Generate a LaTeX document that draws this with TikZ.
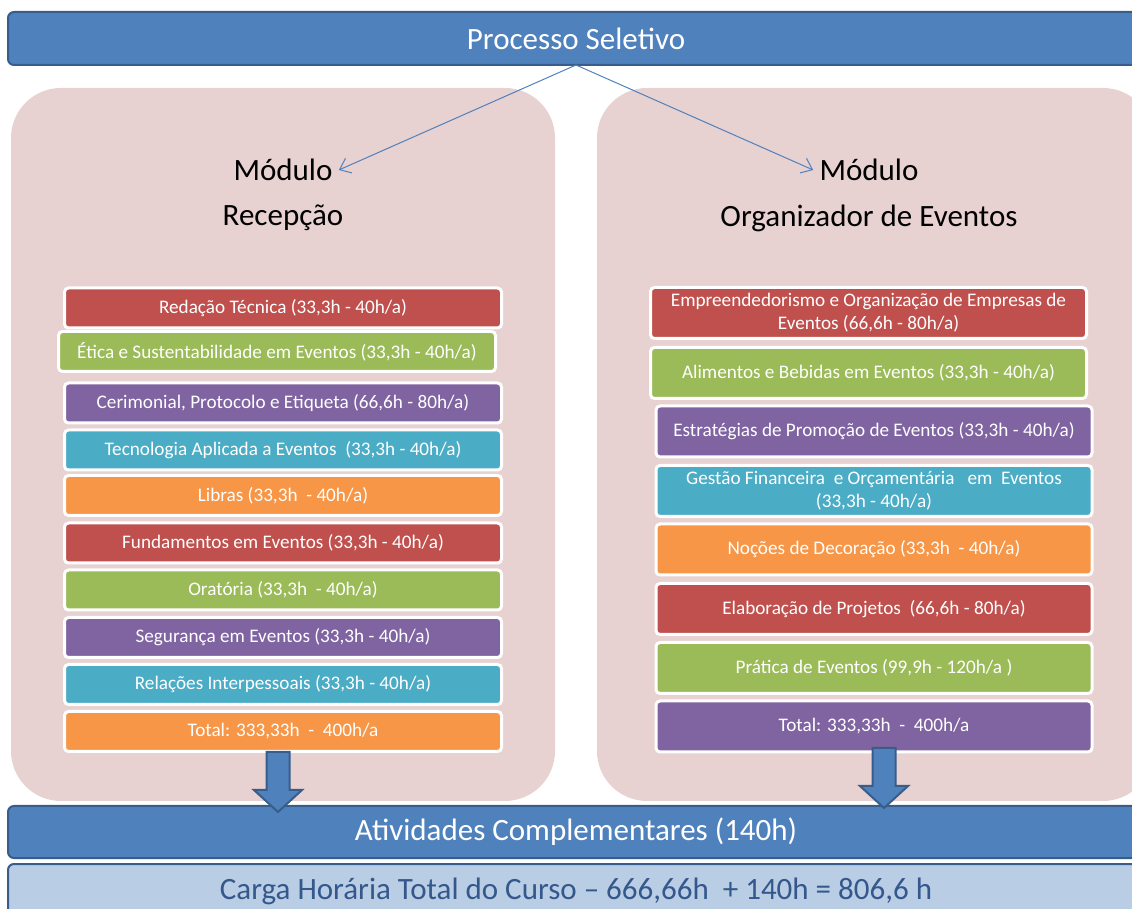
\documentclass[tikz,border=0pt]{standalone}
\usepackage{fontspec}
\setmainfont{Carlito}
\usetikzlibrary{arrows.meta,positioning,calc}
\definecolor{barblue}{HTML}{4F81BD}
\definecolor{barline}{HTML}{385D8A}
\definecolor{barlight}{HTML}{B9CDE5}
\definecolor{cargatext}{HTML}{34578C}
\definecolor{panelpink}{HTML}{E8D1D1}
\definecolor{boxred}{HTML}{C0504D}
\definecolor{boxgreen}{HTML}{9BBB59}
\definecolor{boxpurple}{HTML}{8064A2}
\definecolor{boxaqua}{HTML}{4BACC6}
\definecolor{boxorange}{HTML}{F79646}
\tikzset{
  >={Straight Barb[length=5pt,width=8pt]},
  bar/.style    = {draw=barline, line width=1pt, fill=barblue, rounded corners=3pt,
                   text=white, minimum width=584pt, font=\fontsize{15.5}{18}\selectfont},
  panel/.style  = {fill=panelpink, rounded corners=25pt, minimum height=356.5pt},
  course/.style = {draw=white, line width=1.5pt, rounded corners=2pt, text=white,
                   align=center, inner sep=2pt, font=\fontsize{9.6}{11.5}\selectfont},
  head/.style   = {inner sep=1pt, font=\fontsize{15.5}{18}\selectfont},
  link/.style   = {draw=barblue, line width=0.5pt, ->},
  block/.style  = {draw=barline, line width=1pt, fill=barblue, line join=miter}
}

\begin{document}
\begin{tikzpicture}[x=0.5pt, y=-0.5pt]  % one unit = one pixel, y grows downwards
  \useasboundingbox (0,0) rectangle (1132,909);
  \clip (0,0) rectangle (1132,909);

  %  --  The two module panels
  \node[panel, minimum width=272pt]   (recepcao) at (283,444.5) {};
  \node[panel, minimum width=278pt] (eventos)  at (875,444.5) {};

  %  --  Selection bar on top and the two module titles
  \node[bar, minimum height=26.5pt] (selecao) at (592,38.5) {\hspace*{-16pt}Processo Seletivo};
  \node[head] (modL)  at (283,170) {Módulo};
  \node[head] (nomeL) at (283,218) {Recepção};
  \node[head] (modR)  at (869,170) {Módulo};
  \node[head] (nomeR) at (869,218) {Organizador de Eventos};
  \coordinate (split) at (576,65);
  \draw[link] (split) -- ([xshift=2pt]modL.east);
  \draw[link] (split) -- ([xshift=-2pt]modR.west);

  %  --  Courses of the first module
  \foreach \y/\x/\c/\txt [count=\i] in {
      308/283/boxred/{Redação Técnica (33,3h - 40h/a)},
      351.5/277/boxgreen/{Ética e Sustentabilidade em Eventos (33,3h - 40h/a)},
      403/283/boxpurple/{Cerimonial, Protocolo e Etiqueta (66,6h - 80h/a)},
      450/283/boxaqua/{Tecnologia Aplicada a Eventos\ \ (33,3h - 40h/a)},
      495.5/283/boxorange/{Libras (33,3h\ \ - 40h/a)},
      543/283/boxred/{Fundamentos em Eventos (33,3h - 40h/a)},
      590/283/boxgreen/{Oratória (33,3h\ \ - 40h/a)},
      637.5/283/boxpurple/{Segurança em Eventos (33,3h - 40h/a)},
      684.5/283/boxaqua/{Relações Interpessoais (33,3h - 40h/a)},
      731.5/283/boxorange/{Total: 333,33h\ \ -\ \ 400h/a}}{
    \node[course, fill=\c, minimum width=218.5pt, minimum height=20pt] (rec\i) at (\x,\y) {\txt};
  }

  %  --  Courses of the second module
  \foreach \y/\x/\c/\txt [count=\i] in {
      313/868.5/boxred/{Empreendedorismo e Organização de Empresas de\\Eventos (66,6h - 80h/a)},
      373/868.5/boxgreen/{Alimentos e Bebidas em Eventos (33,3h - 40h/a)},
      431.5/874/boxpurple/{Estratégias de Promoção de Eventos (33,3h - 40h/a)},
      491/874/boxaqua/{Gestão Financeira\ \ e Orçamentária\ \ \ em\ \ Eventos\\(33,3h - 40h/a)},
      549.5/874/boxorange/{Noções de Decoração (33,3h\ \ - 40h/a)},
      609/874/boxred/{Elaboração de Projetos\ \ (66,6h - 80h/a)},
      668/874/boxgreen/{Prática de Eventos (99,9h - 120h/a\ )},
      726.5/874/boxpurple/{Total: 333,33h\ \ -\ \ 400h/a}}{
    \node[course, fill=\c, minimum width=218pt, minimum height=25.5pt] (org\i) at (\x,\y) {\txt};
  }

  %  --  Bottom bars (they run on past the right edge)
  \node[bar, minimum height=26pt] (atividades) at (592,832)
    {\hspace*{-16pt}Atividades Complementares (140h)};
  \node[bar, fill=barlight, text=cargatext, minimum height=27pt] (carga) at (592,891)
    {\hspace*{-16pt}Carga Horária Total do Curso – 666,66h\ \ + 140h = 806,6 h};

  %  --  Block arrows from the modules down to the complementary activities
  \foreach \s/\x/\t in {L/278/812,R/884/808}{
    \coordinate (tip\s) at (\x,\t);
    \draw[block] (tip\s) -- ++(-24,-22) -- ++(12.5,0) -- ++(0,-38) -- ++(23,0)
      -- ++(0,38) -- ++(12.5,0) -- cycle;
  }
\end{tikzpicture}
\end{document}
